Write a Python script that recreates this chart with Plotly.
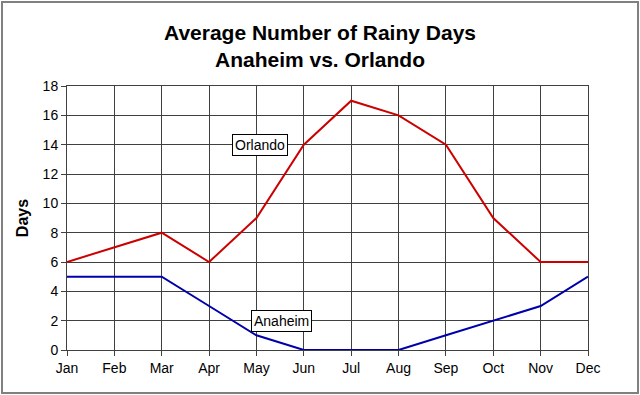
import plotly.graph_objects as go

months = ["Jan", "Feb", "Mar", "Apr", "May", "Jun", "Jul", "Aug", "Sep", "Oct", "Nov", "Dec"]
orlando = [6, 7, 8, 6, 9, 14, 17, 16, 14, 9, 6, 6]
anaheim = [5, 5, 5, 3, 1, 0, 0, 0, 1, 2, 3, 5]

FONT = "Liberation Sans, Arial, sans-serif"

fig = go.Figure()
fig.add_trace(go.Scatter(x=months, y=orlando, mode="lines", name="Orlando",
                         line=dict(color="#CC0000", width=2)))
fig.add_trace(go.Scatter(x=months, y=anaheim, mode="lines", name="Anaheim",
                         line=dict(color="#0000AA", width=2)))

fig.add_annotation(x="May", y=14, xshift=4, text="Orlando", showarrow=False,
                   font=dict(family=FONT, size=14, color="black"),
                   bgcolor="white", bordercolor="black", borderwidth=1, borderpad=2)
fig.add_annotation(x="May", y=2, xshift=25, text="Anaheim", showarrow=False,
                   font=dict(family=FONT, size=14, color="black"),
                   bgcolor="white", bordercolor="black", borderwidth=1, borderpad=2)

L, R, T, B = 67, 52, 86, 45
W, H = 640, 395
pw, ph = W - L - R, H - T - B
fig.add_shape(type="rect", xref="paper", yref="paper",
              x0=(2 - L) / pw, x1=(638 - L) / pw,
              y0=(H - B - 393) / ph, y1=(H - B - 2) / ph,
              line=dict(color="#808080", width=2), layer="below")

fig.update_layout(
    width=W, height=H,
    margin=dict(l=L, r=R, t=T, b=B),
    paper_bgcolor="white", plot_bgcolor="white",
    showlegend=False,
    title=dict(text="<b>Average Number of Rainy Days<br>Anaheim vs. Orlando</b>",
               x=0.5, xanchor="center", y=0.9, yanchor="top",
               font=dict(family=FONT, size=21, color="black")),
    font=dict(family=FONT, size=14, color="black"),
)
fig.update_xaxes(type="category", range=[0, 11], showgrid=True, gridcolor="#404040", gridwidth=1,
                 showline=True, linecolor="#404040", mirror=True, ticks="outside", ticklen=5,
                 tickcolor="#404040", tickfont=dict(family=FONT, size=14))
fig.update_yaxes(range=[0, 18], dtick=2, showgrid=True, gridcolor="#404040", gridwidth=1,
                 showline=True, linecolor="#404040", mirror=True, ticks="outside", ticklen=5,
                 tickcolor="#404040", zeroline=False,
                 title=dict(text="<b>Days</b>", font=dict(family=FONT, size=16), standoff=10),
                 tickfont=dict(family=FONT, size=14))

fig.write_html("out.html", config={"displayModeBar": False},
               post_script="document.body.style.margin='0';")
